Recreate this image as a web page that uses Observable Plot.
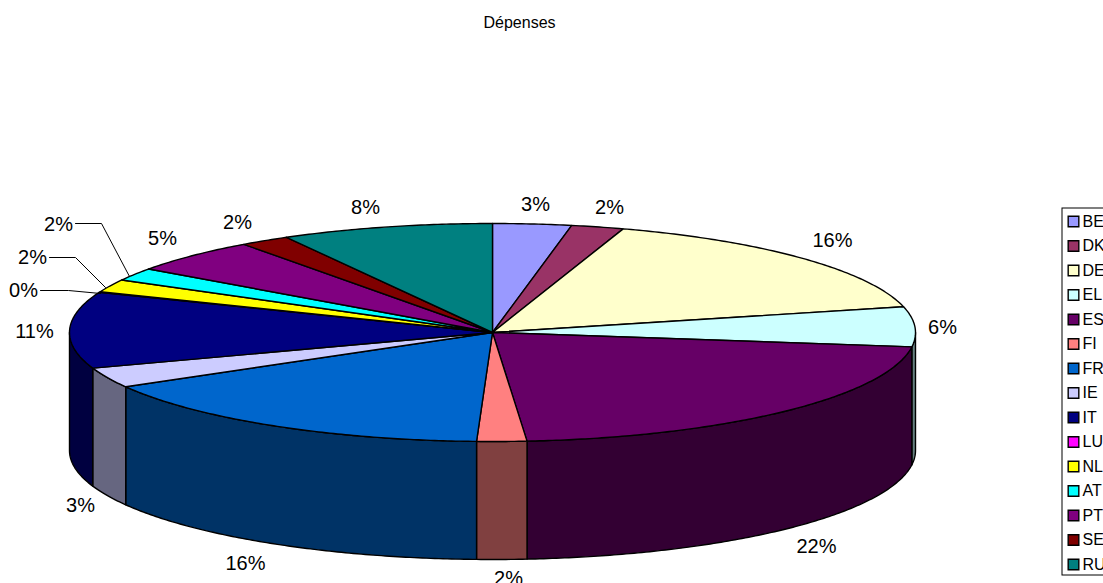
<!DOCTYPE html>
<html>
<head>
<meta charset="utf-8">
<script src="https://cdn.jsdelivr.net/npm/d3@7"></script>
<script src="https://cdn.jsdelivr.net/npm/@observablehq/plot@0.6"></script>
<style>
  html, body { margin: 0; padding: 0; background: #fff; overflow: hidden; }
  svg { display: block; }
</style>
</head>
<body>
<div id="chart"></div>
<script>
// Expenditure by country, as shares of the total
const countries = ["BE","DK","DE","EL","ES","FI","FR","IE","IT","LU","NL","AT","PT","SE","RU"];
const shares = [3.0, 2.0, 16.2, 5.9, 21.6, 1.9, 16.1, 3.0, 11.3, 0.1, 1.9, 1.9, 5.1, 1.9, 8.1];
const topColors = ["#9999FF","#993366","#FFFFCC","#CCFFFF","#660066","#FF8080","#0066CC","#CCCCFF","#000080","#FF00FF","#FFFF00","#00FFFF","#800080","#800000","#008080"];

// Label anchor for each slice, in the chart's pixel frame
const labelX = [535, 609, 832, 942, 816, 508, 245, 80, 34, 23, 32, 58, 162, 237, 365];
const labelY = [204, 207, 240, 327, 546, 578, 563, 505, 331, 290, 257, 224, 238, 222, 207];

// Leader lines for the narrow slices
const leaders = [
  {key: "LU", xs: [40, 68, 100], ys: [290, 290, 293]},
  {key: "NL", xs: [49, 75, 105], ys: [257, 257, 287]},
  {key: "AT", xs: [75, 101, 129], ys: [223, 223, 276]}
];

const W = 1103, H = 583;
const cx = 492, cy = 332, rx = 423, ry = 109, depth = 118;

// Cumulative slice boundaries, clockwise from twelve o'clock
const total = d3.sum(shares);
let running = 0;
const slices = countries.map((key, i) => {
  const a0 = running / total * 2 * Math.PI;
  running += shares[i];
  return {key, i, a0, a1: running / total * 2 * Math.PI};
});

const rim = (a, drop = 0) => ({x: cx + rx * Math.sin(a), y: cy - ry * Math.cos(a) + drop});
const arc = (a0, a1, drop = 0) => {
  const n = Math.max(2, Math.ceil((a1 - a0) / 0.01));
  return d3.range(n + 1).map((k) => rim(a0 + (a1 - a0) * k / n, drop));
};

const shade = (c) => {
  const {r, g, b} = d3.rgb(c);
  return d3.rgb(r / 2, g / 2, b / 2).formatHex();
};

// Top faces of the pie
const topFaces = slices.flatMap((s) =>
  [{x: cx, y: cy}, ...arc(s.a0, s.a1), {x: cx, y: cy}].map((p) => ({...p, key: s.key, color: topColors[s.i]}))
);

// Outer wall: only the part of each slice that faces the viewer
const wallFaces = slices.flatMap((s) => {
  const a0 = Math.max(s.a0, Math.PI / 2), a1 = Math.min(s.a1, 3 * Math.PI / 2);
  if (a1 <= a0) return [];
  const upper = arc(a0, a1), lower = arc(a0, a1, depth).reverse();
  return [...upper, ...lower, upper[0]].map((p) => ({...p, key: s.key, color: shade(topColors[s.i])}));
});

const leaderPoints = leaders.flatMap((l) => l.xs.map((x, k) => ({key: l.key, x, y: l.ys[k]})));

const labels = slices.map((s) => ({
  x: labelX[s.i],
  y: labelY[s.i],
  text: d3.format(".0%")(shares[s.i] / total)
}));

// Legend column
const legendX = 1062, legendTop = 208, legendBottom = 575, legendStep = 24.5;
const legend = countries.map((key, i) => ({key, color: topColors[i], y: 221 + i * legendStep}));

const plot = Plot.plot({
  width: W,
  height: H,
  margin: 0,
  style: {fontFamily: "'Liberation Sans', Arial, sans-serif", background: "#fff", color: "#000"},
  x: {domain: [0, W], range: [0, W], axis: null},
  y: {domain: [0, H], range: [0, H], axis: null},
  color: {type: "identity"},
  marks: [
    Plot.line(wallFaces, {x: "x", y: "y", z: "key", fill: "color", stroke: "#000", strokeWidth: 1.4, strokeLinejoin: "round"}),
    Plot.line(topFaces, {x: "x", y: "y", z: "key", fill: "color", stroke: "#000", strokeWidth: 1.4, strokeLinejoin: "round"}),
    Plot.line(leaderPoints, {x: "x", y: "y", z: "key", stroke: "#000", strokeWidth: 1}),
    Plot.text(labels, {x: "x", y: "y", text: "text", fontSize: 20, fill: "#000"}),
    Plot.text(["Dépenses"], {x: [519], y: [22], text: (d) => d, fontSize: 16, fill: "#000"}),
    Plot.rect([0], {x1: [legendX], x2: [W + 10], y1: [legendTop], y2: [legendBottom], fill: "#fff", stroke: "#000", strokeWidth: 1}),
    Plot.dot(legend, {x: legendX + 11, y: "y", symbol: "square", r: 6, fill: "color", stroke: "#000", strokeWidth: 1.4}),
    Plot.text(legend, {x: legendX + 20, y: "y", text: "key", fontSize: 16, textAnchor: "start", fill: "#000"})
  ]
});
document.getElementById("chart").appendChild(plot);
</script>
</body>
</html>
